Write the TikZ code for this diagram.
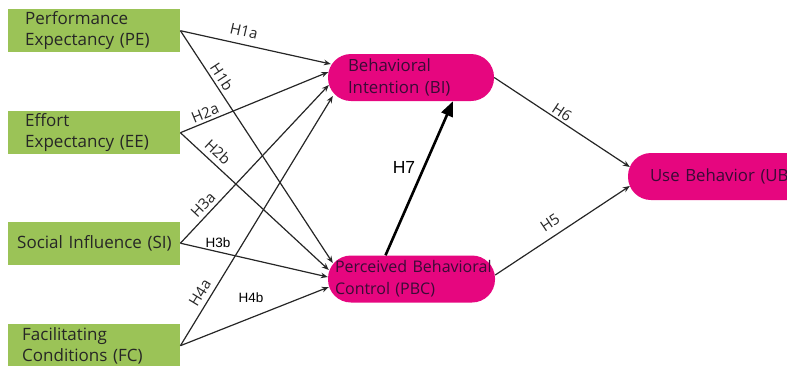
\documentclass[tikz,border=0pt]{standalone}
\usepackage{fontspec}
\setmainfont{Open Sans}
\newfontfamily\arialf{Liberation Sans}
\usetikzlibrary{arrows.meta,calc}
\definecolor{boxgreen}{HTML}{9BC357}
\definecolor{pinkfill}{HTML}{E6067F}
\definecolor{pinktext}{HTML}{3A0B36}
\definecolor{linegray}{HTML}{262626}
\begin{document}
\begin{tikzpicture}[x=1pt,y=-1pt,
  greenbox/.style={rectangle, fill=boxgreen, minimum width=172pt, minimum height=43pt,
    anchor=north west, inner xsep=0pt, inner ysep=0pt, align=left,
    font=\fontsize{17}{21}\selectfont, text=black!85},
  pill/.style={rectangle, rounded corners=23pt, fill=pinkfill, minimum height=47pt,
    inner xsep=0pt, inner ysep=0pt, align=left,
    font=\fontsize{16.8}{22}\selectfont, text=pinktext},
  conn/.style={draw=linegray, line width=1.2pt, -{Stealth[length=7pt,width=5.5pt]}},
  bigconn/.style={draw=black, line width=2.6pt, -{Triangle[length=15pt,width=12pt]}},
  hlab/.style={font=\fontsize{15}{16}\selectfont, text=linegray, inner sep=0pt},
  alab/.style={font=\arialf\fontsize{13.5}{14}\selectfont, text=black, inner sep=0pt},
  biglab/.style={font=\arialf\fontsize{17.5}{18}\selectfont, text=black, inner sep=0pt}
]
\useasboundingbox (0,0) rectangle (787,365);
\clip (0,0) rectangle (787,365);

% source boxes
\node[greenbox, text width=138pt] (pe) at (8,9) {Performance\\Expectancy (PE)};
\node[greenbox, text width=138pt] (ee) at (8,111) {Effort\\Expectancy (EE)};
\node[greenbox, text width=154pt] (si) at (8,221.5) {\mbox{Social Influence (SI)}};
\node[greenbox, text width=144pt] (fc) at (8,324) {Facilitating\\Conditions (FC)};

% target pills
\node[pill, minimum width=166pt, text width=126pt] (bi) at (411,77.5) {Behavioral\\Intention (BI)};
\node[pill, minimum width=167pt, text width=153pt, font=\fontsize{16}{22}\selectfont] (pbc) at (411.5,279) {\mbox{Perceived Behavioral}\\Control (PBC)};
\node[pill, minimum width=190pt, text width=146pt] (ub) at (723,176.5) {\mbox{Use Behavior (UB)}};

% connectors to BI
\draw[conn] (pe.east) -- ($(bi.west)+(3,-13.5)$);
\draw[conn] (ee.east) -- ($(bi.west)+(0.5,-5.5)$);
\draw[conn] (si.east) -- ($(bi.west)+(1,7.5)$);
\draw[conn] (fc.east) -- ($(bi.west)+(5,18.5)$);
% connectors to PBC
\draw[conn] (pe.east) -- ($(pbc.west)+(5,-16)$);
\draw[conn] (ee.east) -- ($(pbc.west)+(1,-9)$);
\draw[conn] (si.east) -- ($(pbc.west)+(0,-2)$);
\draw[conn] (fc.east) -- ($(pbc.west)+(1,8)$);
% connectors to UB
\draw[conn] (bi.east) -- ($(ub.west)+(2,-9.5)$);
\draw[conn] ($(pbc.east)+(0,-4)$) -- ($(ub.west)+(2,9.5)$);
% PBC to BI
\draw[bigconn] ($(pbc.north)+(-26,0)$) -- ($(bi.south)+(42,0)$);

% labels
\node[hlab, rotate=-12.9] (l1a) at (244,31) {H1a};
\node[hlab, rotate=-56.9] (l1b) at (222,77) {H1b};
\node[hlab, rotate=22.2] (l2a) at (205,113) {H2a};
\node[hlab, rotate=-43.1] (l2b) at (218,152) {H2b};
\node[hlab, rotate=46.9] (l3a) at (203,205) {H3a};
\node[alab] (l3b) at (218,243) {H3b};
\node[hlab, rotate=58.5] (l4a) at (200,293) {H4a};
\node[alab] (l4b) at (251,298) {H4b};
\node[hlab, rotate=-33.7] (l6) at (562,112) {H6};
\node[hlab, rotate=33.8] (l5) at (550,223) {H5};
\node[biglab] (l7) at (404,167) {H7};
\end{tikzpicture}
\end{document}
